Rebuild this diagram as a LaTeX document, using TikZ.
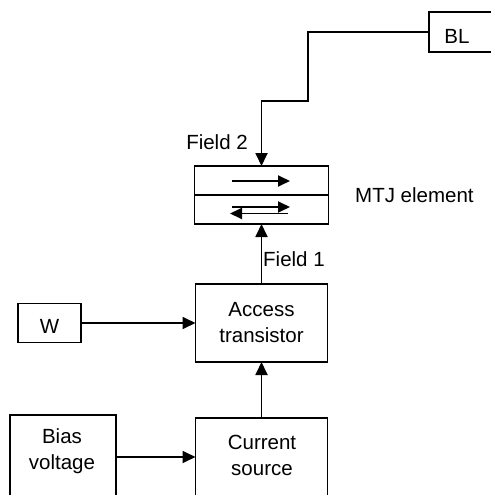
\documentclass[tikz,border=0pt]{standalone}
\usepackage{fontspec}
\setmainfont{Liberation Sans}
\usetikzlibrary{arrows.meta}
\begin{document}
\begin{tikzpicture}[x=1pt,y=-1pt,
  box/.style={draw,line width=1.8pt,inner sep=0pt,outer sep=0pt},
  lbl/.style={font=\fontsize{20.5}{26}\selectfont,inner sep=0pt,align=center},
  conn/.style={line width=1.8pt,-{Triangle[length=13pt,width=12pt]}},
  spin/.style={line width=1.8pt,-{Triangle[length=12pt,width=11pt]}}]
\useasboundingbox (0,0) rectangle (490,495);
% boxes
\node[box,minimum width=66pt,minimum height=40pt] (bl) at (462,32) {};
\node[lbl] (bltext) at (457,36) {BL};
\node[box,minimum width=134pt,minimum height=58pt] (mtj) at (261.5,195) {};
\draw[line width=1.8pt] (mtj.west) -- (mtj.east);
\node[box,minimum width=132pt,minimum height=78pt] (acc) at (261.5,323) {};
\node[lbl] (acctext) at (261.5,323) {Access\\transistor};
\node[box,minimum width=63pt,minimum height=39pt] (w) at (49.5,323) {};
\node[lbl] (wtext) at (49.5,326) {W};
\node[box,minimum width=106pt,minimum height=84pt] (bias) at (63,457) {};
\node[lbl] (biastext) at (62,451) {Bias\\voltage};
\node[box,minimum width=132pt,minimum height=78pt] (cur) at (261.5,457) {};
\node[lbl] (curtext) at (262,455) {Current\\source};
% labels
\node[lbl,anchor=west] (mtjlbl) at (355,195) {MTJ element};
\node[lbl,anchor=east] (f2) at (248,142) {Field 2};
\node[lbl,anchor=west] (f1) at (263,259) {Field 1};
% magnetisation arrows
\draw[spin] (232,181) -- (290,181);
\draw[spin] (232,207) -- (290,207);
\draw[spin] (288,213.5) -- (230,213.5);
% connectors
\draw[conn] (bl.west) -| (308,101) -| (mtj.north);
\draw[conn] (acc.north) -- (mtj.south);
\draw[conn] (w.east) -- (acc.west);
\draw[conn] (cur.north) -- (acc.south);
\draw[conn] (bias.east) -- (cur.west);
\end{tikzpicture}
\end{document}
